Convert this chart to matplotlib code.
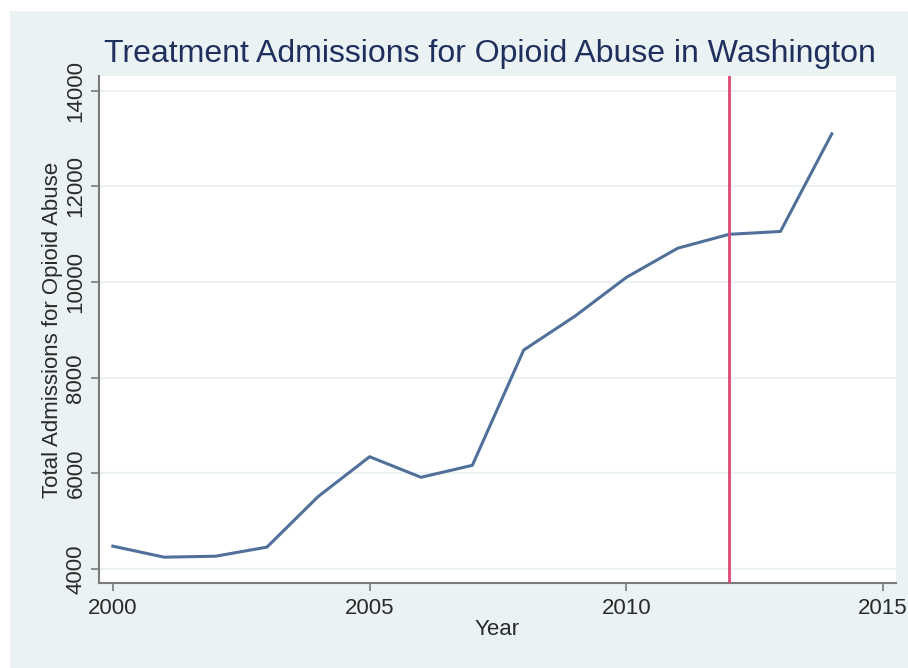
import numpy as np
import matplotlib.pyplot as plt
from matplotlib.patches import Rectangle

years = [2000, 2001, 2002, 2003, 2004, 2005, 2006, 2007, 2008, 2009, 2010, 2011, 2012, 2013, 2014]
admissions = [4480, 4250, 4270, 4460, 5520, 6350, 5920, 6170, 8580, 9290, 10100, 10710, 11000, 11060, 13100]
policy_year = 2012
yticks = [4000, 6000, 8000, 10000, 12000, 14000]
xticks = [2000, 2005, 2010, 2015]

bg = "#eaf2f3"
W, H = 908, 668

plt.rcParams['font.family'] = ['Liberation Sans', 'DejaVu Sans']
fig = plt.figure(figsize=(W / 100, H / 100), dpi=100, facecolor="white")
# outer light panel (white strip at top and left)
fig.patches.append(Rectangle((10 / W, 0), 1, 1 - 11 / H, transform=fig.transFigure,
                             facecolor=bg, edgecolor="none", zorder=-10))

left, right, top, bottom = 99, 896, 76, 583
ax = fig.add_axes([left / W, 1 - bottom / H, (right - left) / W, (bottom - top) / H])
ax.set_facecolor("white")

ax.plot(years, admissions, color="#50709a", lw=2.2, zorder=3)
ax.axvline(policy_year, color="#db4a74", lw=2, zorder=4)

ax.set_xlim(1999.73, 2015.25)
ax.set_ylim(3710, 14310)
ax.set_xticks(xticks)
ax.set_yticks(yticks)
ax.grid(axis="y", color=bg, lw=1.5, zorder=1)
ax.set_axisbelow(True)

for s in ["top", "right"]:
    ax.spines[s].set_visible(False)
for s in ["left", "bottom"]:
    ax.spines[s].set_color("#7a7a7a")
    ax.spines[s].set_linewidth(1.5)

ax.tick_params(axis="both", colors="#7a7a7a", length=6, width=1.2, labelcolor="#2a2a2a", labelsize=16)
ax.tick_params(axis="x", pad=5)
ax.tick_params(axis="y", pad=3)
for lbl in ax.get_yticklabels():
    lbl.set_rotation(90)
    lbl.set_va("center")

ax.set_xlabel("Year", fontsize=16, color="#2a2a2a", labelpad=0)
ax.set_ylabel("Total Admissions for Opioid Abuse", fontsize=16, color="#2a2a2a", labelpad=2)
fig.text(490 / W, 1 - 54 / H, "Treatment Admissions for Opioid Abuse in Washington",
         ha="center", va="center", fontsize=23, color="#1f2f5e")

fig.savefig("out.png", dpi=100, facecolor=fig.get_facecolor())
